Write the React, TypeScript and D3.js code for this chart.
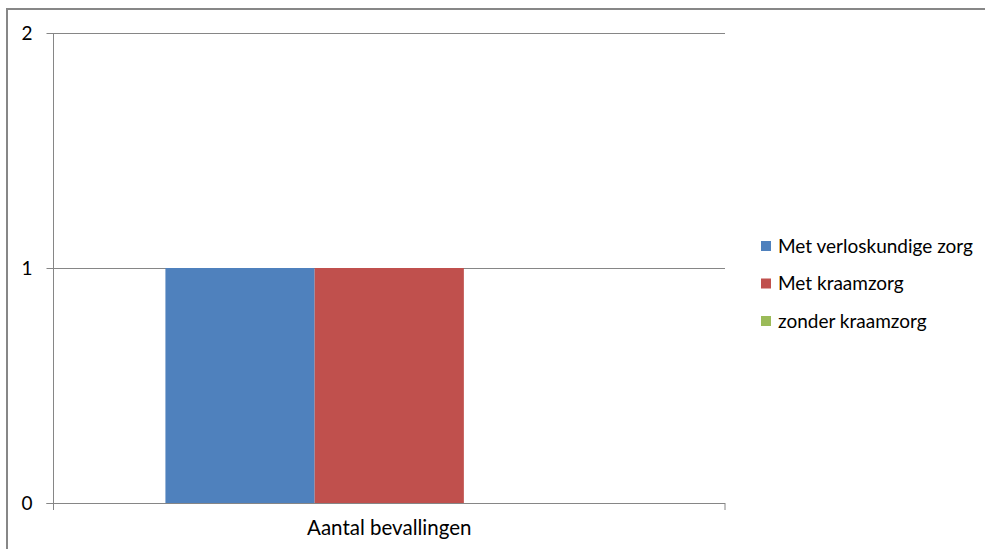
import React from "react";
import * as d3 from "d3";

const categories = ["Aantal bevallingen"];
const seriesNames = ["Met verloskundige zorg", "Met kraamzorg", "zonder kraamzorg"];
const seriesValues = [[1], [1], [0]];
const seriesColors = ["#4F81BD", "#C0504D", "#9BBB59"];
const yTicks = [0, 1, 2];

const W = 985;
const H = 549;
const FONT = "Lato, 'Open Sans', sans-serif";

export default function App() {
  const left = 53.5;
  const right = 725;
  const top = 33;
  const bottom = 503;

  const y = d3.scaleLinear().domain([0, 2]).range([bottom, top]);
  const x = d3.scaleBand<string>().domain(categories).range([left, right]).paddingInner(0).paddingOuter(0);
  const inner = d3
    .scaleBand<string>()
    .domain(seriesNames)
    .range([0, x.bandwidth()])
    .paddingInner(0)
    .paddingOuter(0.75);

  const gridColor = "#868686";

  return (
    <svg
      width={W}
      height={H}
      style={{ position: "absolute", left: 0, top: 0, background: "#fff" }}
      fontFamily={FONT}
    >
      <rect x={0} y={0} width={W} height={H} fill="#fff" />
      {/* outer border (cropped) */}
      <rect x={7} y={9} width={W + 20} height={H + 20} fill="none" stroke="#878787" strokeWidth={2} />

      {/* gridlines */}
      {yTicks.map((t) => (
        <line key={"g" + t} x1={left - 7} x2={right} y1={Math.round(y(t)) + 0.5} y2={Math.round(y(t)) + 0.5} stroke={gridColor} strokeWidth={1} />
      ))}

      {/* bars */}
      {categories.map((c, ci) =>
        seriesNames.map((s, si) => {
          const v = seriesValues[si][ci];
          const x0 = (x(c) ?? 0) + (inner(s) ?? 0);
          return (
            <rect
              key={c + s}
              x={x0}
              y={y(v)}
              width={inner.bandwidth()}
              height={bottom - y(v)}
              fill={seriesColors[si]}
            />
          );
        })
      )}

      {/* redraw axis line at 0 */}
      <line x1={left - 7} x2={right} y1={Math.round(y(0)) + 0.5} y2={Math.round(y(0)) + 0.5} stroke={gridColor} strokeWidth={1} />

      {/* y axis */}
      <line x1={left} x2={left} y1={top} y2={bottom + 7} stroke={gridColor} strokeWidth={1} />
      {/* x ticks */}
      <line x1={right} x2={right} y1={bottom} y2={bottom + 7} stroke={gridColor} strokeWidth={1} />

      {/* y tick labels */}
      {yTicks.map((t) => (
        <text key={"l" + t} x={27} y={y(t)} dy="0.35em" textAnchor="middle" fontSize={19} fill="#000">
          {t}
        </text>
      ))}

      {/* x label */}
      {categories.map((c) => (
        <text key={"x" + c} x={(x(c) ?? 0) + x.bandwidth() / 2} y={535} textAnchor="middle" fontSize={20.5} fill="#000">
          {c}
        </text>
      ))}

      {/* legend */}
      {seriesNames.map((s, i) => {
        const cy = 246 + i * 37.5;
        return (
          <g key={"lg" + s}>
            <rect x={761} y={cy - 5} width={10} height={10} fill={seriesColors[i]} />
            <text x={778} y={cy} dy="0.35em" fontSize={19} fill="#000">
              {s}
            </text>
          </g>
        );
      })}
    </svg>
  );
}
